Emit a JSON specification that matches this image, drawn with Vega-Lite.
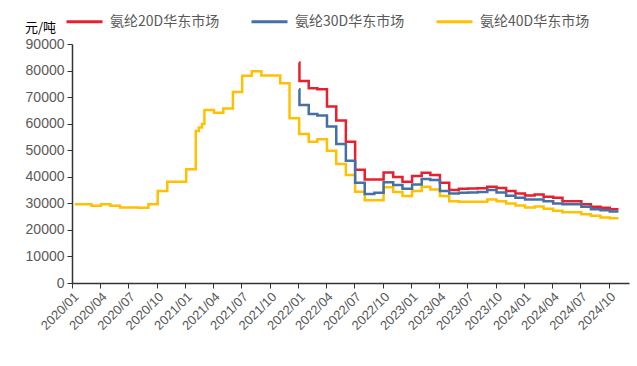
{
 "$schema": "https://vega.github.io/schema/vega-lite/v6.json",
 "width": 557,
 "height": 239,
 "autosize": {"type": "none"},
 "padding": {"left": 72, "top": 44, "right": 8, "bottom": 83},
 "background": "white",
 "config": {"view": {"stroke": null}, "font": "Liberation Sans"},
 "data": {"values": [
  {"d": "2020-01-10", "s": "氨纶40D华东市场", "v": 29700},
  {"d": "2020-02-04", "s": "氨纶40D华东市场", "v": 29700},
  {"d": "2020-03-04", "s": "氨纶40D华东市场", "v": 29060},
  {"d": "2020-04-04", "s": "氨纶40D华东市场", "v": 29700},
  {"d": "2020-05-04", "s": "氨纶40D华东市场", "v": 29060},
  {"d": "2020-06-04", "s": "氨纶40D华东市场", "v": 28450},
  {"d": "2020-07-04", "s": "氨纶40D华东市场", "v": 28450},
  {"d": "2020-08-04", "s": "氨纶40D华东市场", "v": 28300},
  {"d": "2020-09-04", "s": "氨纶40D华东市场", "v": 29700},
  {"d": "2020-10-04", "s": "氨纶40D华东市场", "v": 34600},
  {"d": "2020-11-04", "s": "氨纶40D华东市场", "v": 38100},
  {"d": "2020-12-04", "s": "氨纶40D华东市场", "v": 38100},
  {"d": "2021-01-04", "s": "氨纶40D华东市场", "v": 42800},
  {"d": "2021-02-04", "s": "氨纶40D华东市场", "v": 57250},
  {"d": "2021-02-14", "s": "氨纶40D华东市场", "v": 58600},
  {"d": "2021-02-24", "s": "氨纶40D华东市场", "v": 59900},
  {"d": "2021-03-04", "s": "氨纶40D华东市场", "v": 65150},
  {"d": "2021-04-04", "s": "氨纶40D华东市场", "v": 64150},
  {"d": "2021-05-04", "s": "氨纶40D华东市场", "v": 65670},
  {"d": "2021-06-04", "s": "氨纶40D华东市场", "v": 71970},
  {"d": "2021-07-04", "s": "氨纶40D华东市场", "v": 78000},
  {"d": "2021-08-04", "s": "氨纶40D华东市场", "v": 79780},
  {"d": "2021-09-04", "s": "氨纶40D华东市场", "v": 78120},
  {"d": "2021-10-04", "s": "氨纶40D华东市场", "v": 78120},
  {"d": "2021-11-04", "s": "氨纶40D华东市场", "v": 75200},
  {"d": "2021-12-04", "s": "氨纶40D华东市场", "v": 62050},
  {"d": "2022-01-04", "s": "氨纶40D华东市场", "v": 56100},
  {"d": "2022-02-04", "s": "氨纶40D华东市场", "v": 53200},
  {"d": "2022-03-04", "s": "氨纶40D华东市场", "v": 54100},
  {"d": "2022-04-04", "s": "氨纶40D华东市场", "v": 49800},
  {"d": "2022-05-04", "s": "氨纶40D华东市场", "v": 44800},
  {"d": "2022-06-04", "s": "氨纶40D华东市场", "v": 40650},
  {"d": "2022-07-04", "s": "氨纶40D华东市场", "v": 34350},
  {"d": "2022-08-04", "s": "氨纶40D华东市场", "v": 31200},
  {"d": "2022-09-04", "s": "氨纶40D华东市场", "v": 31200},
  {"d": "2022-10-04", "s": "氨纶40D华东市场", "v": 36100},
  {"d": "2022-11-04", "s": "氨纶40D华东市场", "v": 34300},
  {"d": "2022-12-04", "s": "氨纶40D华东市场", "v": 32720},
  {"d": "2023-01-04", "s": "氨纶40D华东市场", "v": 34610},
  {"d": "2023-02-04", "s": "氨纶40D华东市场", "v": 36230},
  {"d": "2023-03-04", "s": "氨纶40D华东市场", "v": 35250},
  {"d": "2023-04-04", "s": "氨纶40D华东市场", "v": 32720},
  {"d": "2023-05-04", "s": "氨纶40D华东市场", "v": 30830},
  {"d": "2023-06-04", "s": "氨纶40D华东市场", "v": 30570},
  {"d": "2023-07-04", "s": "氨纶40D华东市场", "v": 30570},
  {"d": "2023-08-04", "s": "氨纶40D华东市场", "v": 30600},
  {"d": "2023-09-04", "s": "氨纶40D华东市场", "v": 31470},
  {"d": "2023-10-04", "s": "氨纶40D华东市场", "v": 30830},
  {"d": "2023-11-04", "s": "氨纶40D华东市场", "v": 29960},
  {"d": "2023-12-04", "s": "氨纶40D华东市场", "v": 29210},
  {"d": "2024-01-04", "s": "氨纶40D华东市场", "v": 28450},
  {"d": "2024-02-04", "s": "氨纶40D华东市场", "v": 28830},
  {"d": "2024-03-04", "s": "氨纶40D华东市场", "v": 27930},
  {"d": "2024-04-04", "s": "氨纶40D华东市场", "v": 27170},
  {"d": "2024-05-04", "s": "氨纶40D华东市场", "v": 26680},
  {"d": "2024-06-04", "s": "氨纶40D华东市场", "v": 26680},
  {"d": "2024-07-04", "s": "氨纶40D华东市场", "v": 25930},
  {"d": "2024-08-04", "s": "氨纶40D华东市场", "v": 25290},
  {"d": "2024-09-04", "s": "氨纶40D华东市场", "v": 24680},
  {"d": "2024-10-04", "s": "氨纶40D华东市场", "v": 24420},
  {"d": "2024-11-01", "s": "氨纶40D华东市场", "v": 24420},
  {"d": "2022-01-04", "s": "氨纶20D华东市场", "v": 83000},
  {"d": "2022-01-05", "s": "氨纶20D华东市场", "v": 76100},
  {"d": "2022-02-04", "s": "氨纶20D华东市场", "v": 73350},
  {"d": "2022-03-04", "s": "氨纶20D华东市场", "v": 73000},
  {"d": "2022-04-04", "s": "氨纶20D华东市场", "v": 66450},
  {"d": "2022-05-04", "s": "氨纶20D华东市场", "v": 61150},
  {"d": "2022-06-04", "s": "氨纶20D华东市场", "v": 53200},
  {"d": "2022-07-04", "s": "氨纶20D华东市场", "v": 42600},
  {"d": "2022-08-04", "s": "氨纶20D华东市场", "v": 39000},
  {"d": "2022-09-04", "s": "氨纶20D华东市场", "v": 39000},
  {"d": "2022-10-04", "s": "氨纶20D华东市场", "v": 41600},
  {"d": "2022-11-04", "s": "氨纶20D华东市场", "v": 39900},
  {"d": "2022-12-04", "s": "氨纶20D华东市场", "v": 38100},
  {"d": "2023-01-04", "s": "氨纶20D华东市场", "v": 40270},
  {"d": "2023-02-04", "s": "氨纶20D华东市场", "v": 41500},
  {"d": "2023-03-04", "s": "氨纶20D华东市场", "v": 40650},
  {"d": "2023-04-04", "s": "氨纶20D华东市场", "v": 37750},
  {"d": "2023-05-04", "s": "氨纶20D华东市场", "v": 35000},
  {"d": "2023-06-04", "s": "氨纶20D华东市场", "v": 35500},
  {"d": "2023-07-04", "s": "氨纶20D华东市场", "v": 35600},
  {"d": "2023-08-04", "s": "氨纶20D华东市场", "v": 35700},
  {"d": "2023-09-04", "s": "氨纶20D华东市场", "v": 36230},
  {"d": "2023-10-04", "s": "氨纶20D华东市场", "v": 35740},
  {"d": "2023-11-04", "s": "氨纶20D华东市场", "v": 34600},
  {"d": "2023-12-04", "s": "氨纶20D华东市场", "v": 33740},
  {"d": "2024-01-04", "s": "氨纶20D华东市场", "v": 32980},
  {"d": "2024-02-04", "s": "氨纶20D华东市场", "v": 33360},
  {"d": "2024-03-04", "s": "氨纶20D华东市场", "v": 32460},
  {"d": "2024-04-04", "s": "氨纶20D华东市场", "v": 32080},
  {"d": "2024-05-04", "s": "氨纶20D华东市场", "v": 30830},
  {"d": "2024-06-04", "s": "氨纶20D华东市场", "v": 30830},
  {"d": "2024-07-04", "s": "氨纶20D华东市场", "v": 29700},
  {"d": "2024-08-04", "s": "氨纶20D华东市场", "v": 28680},
  {"d": "2024-09-04", "s": "氨纶20D华东市场", "v": 28300},
  {"d": "2024-10-04", "s": "氨纶20D华东市场", "v": 27810},
  {"d": "2024-11-01", "s": "氨纶20D华东市场", "v": 27810},
  {"d": "2022-01-04", "s": "氨纶30D华东市场", "v": 73000},
  {"d": "2022-01-05", "s": "氨纶30D华东市场", "v": 67050},
  {"d": "2022-02-04", "s": "氨纶30D华东市场", "v": 63670},
  {"d": "2022-03-04", "s": "氨纶30D华东市场", "v": 63030},
  {"d": "2022-04-04", "s": "氨纶30D华东市场", "v": 58900},
  {"d": "2022-05-04", "s": "氨纶30D华东市场", "v": 52350},
  {"d": "2022-06-04", "s": "氨纶30D华东市场", "v": 46050},
  {"d": "2022-07-04", "s": "氨纶30D华东市场", "v": 37750},
  {"d": "2022-08-04", "s": "氨纶30D华东市场", "v": 33480},
  {"d": "2022-09-04", "s": "氨纶30D华东市场", "v": 33970},
  {"d": "2022-10-04", "s": "氨纶30D华东市场", "v": 37950},
  {"d": "2022-11-04", "s": "氨纶30D华东市场", "v": 36870},
  {"d": "2022-12-04", "s": "氨纶30D华东市场", "v": 35480},
  {"d": "2023-01-04", "s": "氨纶30D华东市场", "v": 37130},
  {"d": "2023-02-04", "s": "氨纶30D华东市场", "v": 39140},
  {"d": "2023-03-04", "s": "氨纶30D华东市场", "v": 38760},
  {"d": "2023-04-04", "s": "氨纶30D华东市场", "v": 34610},
  {"d": "2023-05-04", "s": "氨纶30D华东市场", "v": 33740},
  {"d": "2023-06-04", "s": "氨纶30D华东市场", "v": 34000},
  {"d": "2023-07-04", "s": "氨纶30D华东市场", "v": 34100},
  {"d": "2023-08-04", "s": "氨纶30D华东市场", "v": 34300},
  {"d": "2023-09-04", "s": "氨纶30D华东市场", "v": 35000},
  {"d": "2023-10-04", "s": "氨纶30D华东市场", "v": 34120},
  {"d": "2023-11-04", "s": "氨纶30D华东市场", "v": 32830},
  {"d": "2023-12-04", "s": "氨纶30D华东市场", "v": 32080},
  {"d": "2024-01-04", "s": "氨纶30D华东市场", "v": 31470},
  {"d": "2024-02-04", "s": "氨纶30D华东市场", "v": 31470},
  {"d": "2024-03-04", "s": "氨纶30D华东市场", "v": 30830},
  {"d": "2024-04-04", "s": "氨纶30D华东市场", "v": 29960},
  {"d": "2024-05-04", "s": "氨纶30D华东市场", "v": 29700},
  {"d": "2024-06-04", "s": "氨纶30D华东市场", "v": 29700},
  {"d": "2024-07-04", "s": "氨纶30D华东市场", "v": 28680},
  {"d": "2024-08-04", "s": "氨纶30D华东市场", "v": 27810},
  {"d": "2024-09-04", "s": "氨纶30D华东市场", "v": 27430},
  {"d": "2024-10-04", "s": "氨纶30D华东市场", "v": 26940},
  {"d": "2024-11-01", "s": "氨纶30D华东市场", "v": 26940}
 ]},
 "mark": {"type": "line", "interpolate": "step-after", "strokeWidth": 2.5},
 "encoding": {
  "x": {
   "field": "d", "type": "temporal",
   "scale": {"domain": [{"year": 2020, "month": 1, "date": 1}, {"year": 2024, "month": 12, "date": 5}]},
   "axis": {
    "title": null, "format": "%Y/%m", "tickCount": {"interval": "month", "step": 3},
    "labelAngle": -45, "labelAlign": "right", "labelBaseline": "top",
    "labelFontSize": 13, "labelColor": "#595959", "labelOverlap": false, "labelFlush": false,
    "grid": false, "tickSize": 5, "tickColor": "#333333", "domainColor": "#333333", "domainWidth": 1.5, "labelPadding": 2
   }
  },
  "y": {
   "field": "v", "type": "quantitative",
   "scale": {"domain": [0, 90000], "nice": false},
   "axis": {
    "title": "元/吨", "titleAngle": 0, "titleX": -32, "titleY": -17, "titleAlign": "center", "titleBaseline": "middle",
    "titleFont": "Noto Sans CJK SC", "titleFontSize": 13, "titleFontWeight": "normal", "titleColor": "#000000",
    "values": [0, 10000, 20000, 30000, 40000, 50000, 60000, 70000, 80000, 90000],
    "labelFontSize": 14, "labelColor": "#595959", "grid": false, "tickSize": 5,
    "tickColor": "#333333", "domainColor": "#333333", "domainWidth": 1.5, "labelPadding": 3, "format": "d"
   }
  },
  "color": {
   "field": "s", "type": "nominal",
   "scale": {"domain": ["氨纶20D华东市场", "氨纶30D华东市场", "氨纶40D华东市场"], "range": ["#E8202E", "#4470A6", "#FFC000"]},
   "legend": {
    "title": null, "orient": "none", "legendX": -7, "legendY": -42, "direction": "horizontal",
    "symbolType": "stroke", "symbolSize": 1296, "symbolStrokeWidth": 3,
    "labelFont": "Noto Sans CJK SC", "labelFontSize": 14, "labelColor": "#595959", "labelOffset": 6, "columnPadding": 25
   }
  }
 }
}
